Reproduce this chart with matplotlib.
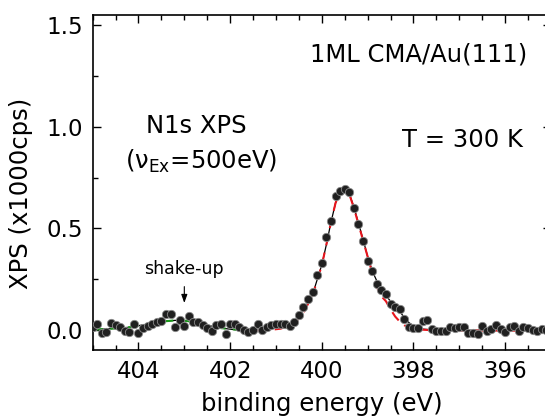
import numpy as np
import matplotlib
matplotlib.use("Agg")
import matplotlib.pyplot as plt
from matplotlib.ticker import MultipleLocator

plt.rcParams['font.family'] = ['DejaVu Sans']
plt.rcParams['mathtext.fontset'] = 'dejavusans'

# measured N1s spectrum, 0.1 eV steps (x1000 cps)
energy = [405.0, 404.9, 404.8, 404.7, 404.6, 404.5, 404.4, 404.3, 404.2, 404.1,
          404.0, 403.9, 403.8, 403.7, 403.6, 403.5, 403.4, 403.3, 403.2, 403.1,
          403.0, 402.9, 402.8, 402.7, 402.6, 402.5, 402.4, 402.3, 402.2, 402.1,
          402.0, 401.9, 401.8, 401.7, 401.6, 401.5, 401.4, 401.3, 401.2, 401.1,
          401.0, 400.9, 400.8, 400.7, 400.6, 400.5, 400.4, 400.3, 400.2, 400.1,
          400.0, 399.9, 399.8, 399.7, 399.6, 399.5, 399.4, 399.3, 399.2, 399.1,
          399.0, 398.9, 398.8, 398.7, 398.6, 398.5, 398.4, 398.3, 398.2, 398.1,
          398.0, 397.9, 397.8, 397.7, 397.6, 397.5, 397.4, 397.3, 397.2, 397.1,
          397.0, 396.9, 396.8, 396.7, 396.6, 396.5, 396.4, 396.3, 396.2, 396.1,
          396.0, 395.9, 395.8, 395.7, 395.6, 395.5, 395.4, 395.3, 395.2, 395.1,
          395.0]
counts = [0.012, 0.030, -0.017, -0.013, 0.035, 0.024, 0.013, -0.008, -0.010, 0.028,
          -0.018, 0.008, 0.020, 0.028, 0.036, 0.044, 0.076, 0.076, 0.011, 0.047,
          0.020, 0.069, 0.036, 0.038, 0.025, 0.008, -0.007, 0.022, 0.030, -0.021,
          0.030, 0.028, 0.011, -0.002, -0.010, -0.002, 0.028, -0.002, 0.011, 0.023,
          0.028, 0.028, 0.028, 0.018, 0.040, 0.071, 0.112, 0.150, 0.185, 0.270,
          0.330, 0.456, 0.538, 0.658, 0.685, 0.692, 0.677, 0.601, 0.519, 0.436,
          0.341, 0.290, 0.224, 0.196, 0.175, 0.125, 0.112, 0.102, 0.052, 0.014,
          0.009, 0.008, 0.043, 0.048, 0.005, -0.005, -0.008, -0.004, 0.014, 0.010,
          0.015, 0.011, -0.018, -0.018, -0.021, 0.020, -0.005, 0.003, 0.025, 0.003,
          -0.013, 0.011, 0.020, -0.005, 0.015, 0.008, -0.002, -0.005, 0.003, 0.000,
          0.008]

# total fit
fit_e = [405.0, 404.6, 404.2, 403.8, 403.5, 403.2, 403.0, 402.8, 402.5, 402.2,
         401.9, 401.6, 401.3, 401.0, 400.8, 400.6, 400.4, 400.2, 400.0, 399.9,
         399.8, 399.7, 399.6, 399.5, 399.4, 399.3, 399.2, 399.1, 399.0, 398.9,
         398.8, 398.7, 398.6, 398.5, 398.4, 398.3, 398.2, 398.1, 398.0, 397.9,
         397.8, 397.5, 397.0, 396.0, 395.0]
fit_total = [0.000, 0.005, 0.012, 0.028, 0.040, 0.046, 0.045, 0.038, 0.022, 0.008,
             0.000, -0.003, 0.002, 0.012, 0.025, 0.045, 0.095, 0.175, 0.320, 0.420,
             0.530, 0.625, 0.680, 0.695, 0.670, 0.605, 0.525, 0.445, 0.360, 0.290,
             0.240, 0.200, 0.168, 0.140, 0.115, 0.090, 0.060, 0.035, 0.018, 0.008,
             0.003, -0.002, -0.003, -0.003, -0.003]

# main N1s component
peak_e = [401.8, 401.2, 400.9, 400.6, 400.4, 400.2, 400.0, 399.9, 399.8, 399.7,
          399.6, 399.5, 399.4, 399.3, 399.2, 399.1, 399.0, 398.9, 398.8, 398.7,
          398.6, 398.5, 398.4, 398.3, 398.2, 398.1, 398.0, 397.8, 397.5, 395.0]
peak_comp = [-0.005, -0.003, 0.005, 0.030, 0.085, 0.170, 0.318, 0.420, 0.530, 0.625,
             0.680, 0.695, 0.668, 0.600, 0.520, 0.440, 0.360, 0.280, 0.210, 0.165,
             0.140, 0.100, 0.065, 0.040, 0.022, 0.010, 0.004, 0.000, -0.004, -0.005]

# shake-up component
shake_e = [405.0, 404.6, 404.2, 403.8, 403.5, 403.2, 403.0, 402.8, 402.5, 402.2,
           401.9, 401.7]
shake_comp = [0.000, 0.005, 0.012, 0.028, 0.040, 0.046, 0.045, 0.038, 0.022, 0.008,
              0.001, -0.001]

fig = plt.figure(figsize=(5.45, 4.2), dpi=100)
ax = fig.add_axes([0.170, 0.1667, 0.841, 0.797])

ax.plot(fit_e, fit_total, color='black', lw=0.9, zorder=2)
ax.plot(peak_e, peak_comp, color='#e8141c', lw=1.5, ls=(0, (5, 3.5)), zorder=3)
ax.plot(shake_e, shake_comp, color='#1a9a1a', lw=1.5, ls=(0, (5, 3.5)), zorder=3)
ax.plot(energy, counts, 'o', ms=6, mfc='#202020', mec='#8a8a8a', mew=0.6, zorder=4)

ax.set_xlim(405, 395)
ax.set_ylim(-0.1, 1.55)
ax.xaxis.set_major_locator(MultipleLocator(2))
ax.xaxis.set_minor_locator(MultipleLocator(0.5))
ax.yaxis.set_major_locator(MultipleLocator(0.5))
ax.yaxis.set_minor_locator(MultipleLocator(0.25))
ax.tick_params(which='both', direction='in', top=True, right=True,
               labelsize=16.5, width=1.0, pad=7)
ax.tick_params(which='major', length=6)
ax.tick_params(which='minor', length=3.5)
for s in ax.spines.values():
    s.set_linewidth(1.2)

ax.set_xlabel('binding energy (eV)', fontsize=17.5, labelpad=7)
ax.set_ylabel('XPS (x1000cps)', fontsize=17.5)
ax.yaxis.set_label_coords(-0.13, 0.469)

ax.text(0.7115, 0.861, '1ML CMA/Au(111)', transform=ax.transAxes,
        ha='center', va='baseline', fontsize=17.5)
ax.text(0.227, 0.647, 'N1s XPS', transform=ax.transAxes,
        ha='center', va='baseline', fontsize=17.5)
ax.text(0.236, 0.542, r'($\mathrm{\nu}_{\mathrm{Ex}}$=500eV)', transform=ax.transAxes,
        ha='center', va='baseline', fontsize=17.5)
ax.text(0.806, 0.607, 'T = 300 K', transform=ax.transAxes,
        ha='center', va='baseline', fontsize=17.5)
ax.text(0.1997, 0.227, 'shake-up', transform=ax.transAxes,
        ha='center', va='baseline', fontsize=12.5)
ax.annotate('', xy=(403.0, 0.118), xytext=(403.0, 0.226),
            arrowprops=dict(arrowstyle='-|>,head_length=0.5,head_width=0.18',
                            color='black', lw=0.8))

fig.savefig('out.png', dpi=100)
